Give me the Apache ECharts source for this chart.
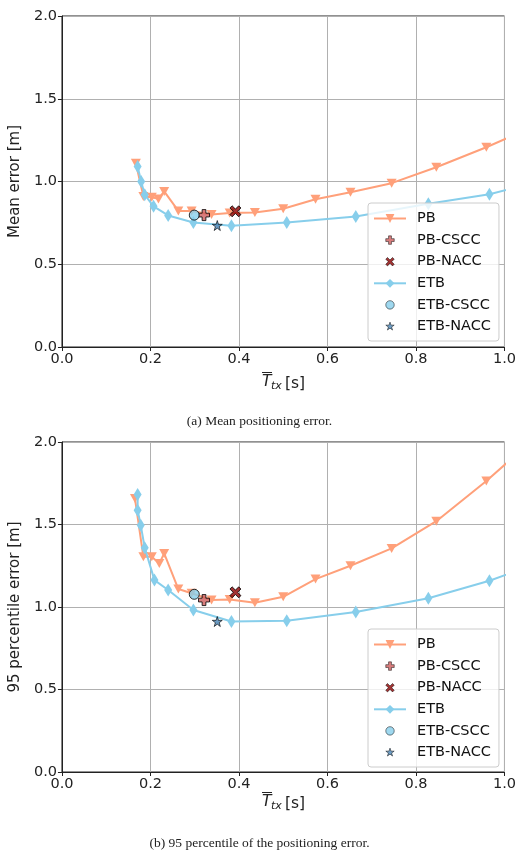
<!DOCTYPE html>
<html>
<head>
<meta charset="utf-8">
<script src="https://cdn.jsdelivr.net/npm/echarts@6/dist/echarts.min.js"></script>
<style>
html,body{margin:0;padding:0;background:#fff;}
#chart{width:519px;height:852px;}
</style>
</head>
<body>
<div id="chart"></div>
<script>
// ---- Data (x = mean Ttx [s], y = error [m]) ----
// (a) Mean positioning error
const meanPB = [[0.167,1.11],[0.184,0.91],[0.203,0.905],[0.218,0.895],[0.231,0.94],[0.263,0.822],[0.293,0.822],[0.338,0.80],[0.379,0.81],[0.436,0.812],[0.50,0.835],[0.573,0.893],[0.652,0.935],[0.745,0.99],[0.846,1.086],[0.959,1.207],[1.08,1.35]];
const meanPBCSCC = [[0.321,0.797]];
const meanPBNACC = [[0.392,0.82]];
const meanETB = [[0.171,1.09],[0.179,1.0],[0.187,0.92],[0.207,0.85],[0.240,0.795],[0.297,0.752],[0.383,0.732],[0.508,0.752],[0.664,0.788],[0.828,0.865],[0.966,0.923],[1.12,1.03]];
const meanETBCSCC = [[0.299,0.797]];
const meanETBNACC = [[0.351,0.734]];
// (b) 95 percentile of the positioning error
const p95PB = [[0.165,1.657],[0.184,1.304],[0.203,1.304],[0.22,1.264],[0.231,1.325],[0.263,1.109],[0.293,1.083],[0.338,1.042],[0.379,1.046],[0.436,1.026],[0.50,1.062],[0.573,1.169],[0.652,1.25],[0.745,1.355],[0.846,1.52],[0.959,1.764],[1.08,2.05]];
const p95PBCSCC = [[0.321,1.042]];
const p95PBNACC = [[0.392,1.089]];
const p95ETB = [[0.171,1.682],[0.171,1.587],[0.178,1.496],[0.187,1.359],[0.209,1.163],[0.240,1.103],[0.297,0.982],[0.383,0.912],[0.508,0.917],[0.664,0.97],[0.828,1.053],[0.966,1.159],[1.12,1.31]];
const p95ETBCSCC = [[0.299,1.077]];
const p95ETBNACC = [[0.351,0.912]];

const seriesNames = ['PB','PB-CSCC','PB-NACC','ETB','ETB-CSCC','ETB-NACC'];
const xTicks = [0.0,0.2,0.4,0.6,0.8,1.0];
const yTicks = [0.0,0.5,1.0,1.5,2.0];
const yLabels = ['Mean error [m]','95 percentile error [m]'];
const captions = ['(a) Mean positioning error.','(b) 95 percentile of the positioning error.'];

// ---- Styles ----
const FONT = 'DejaVu Sans';
const SERIF = 'Liberation Serif';
const cPB = '#FFA07A', cETB = '#87CEEB';
const triDown = 'path://M0,0L10,0L5,8.5Z';
const plusP = 'path://M3.3,0H6.7V3.3H10V6.7H6.7V10H3.3V6.7H0V3.3H3.3Z';
const xP = 'path://M2,0L5,3L8,0L10,2L7,5L10,8L8,10L5,7L2,10L0,8L3,5L0,2Z';
const starP = 'path://M100,0L122.45,69.1L195.1,69.1L136.3,111.8L158.8,180.9L100,138.2L41.2,180.9L63.7,111.8L4.9,69.1L77.55,69.1Z';
// legend icons (padded so they render a bit smaller than the legend box)
const legPlus = 'path://M-1.5,-1.5M11.5,11.5M3.3,0H6.7V3.3H10V6.7H6.7V10H3.3V6.7H0V3.3H3.3Z';
const legX = 'path://M-1.5,-1.5M11.5,11.5M2,0L5,3L8,0L10,2L7,5L10,8L8,10L5,7L2,10L0,8L3,5L0,2Z';
const legCircle = 'path://M-1.5,-1.5M11.5,11.5M0,5A5,5,0,1,1,10,5A5,5,0,1,1,0,5Z';
const legStar = 'path://M-25,-25M225,225M100,0L122.45,69.1L195.1,69.1L136.3,111.8L158.8,180.9L100,138.2L41.2,180.9L63.7,111.8L4.9,69.1L77.55,69.1Z';

const grids = [
  {left:61, top:16, width:445, height:331},
  {left:61, top:442, width:445, height:330}
];

function xAxisFor(i){
  return {type:'value', gridIndex:i, min:0, max:1, interval:0.2,
    axisLine:{show:true, lineStyle:{color:'#222', width:1}},
    axisTick:{show:true, length:4, lineStyle:{color:'#222'}},
    axisLabel:{color:'#222', fontFamily:FONT, fontSize:14.5, margin:5, formatter:v=>v.toFixed(1)},
    splitLine:{show:true, lineStyle:{color:'#b0b0b0', width:1}}
  };
}
function yAxisFor(i){
  return {type:'value', gridIndex:i, min:0, max:2, interval:0.5,
    name:yLabels[i], nameLocation:'middle', nameGap:34,
    nameTextStyle:{color:'#222', fontFamily:FONT, fontSize:15},
    axisLine:{show:true, lineStyle:{color:'#222', width:1}},
    axisTick:{show:true, length:4, lineStyle:{color:'#222'}},
    axisLabel:{color:'#222', fontFamily:FONT, fontSize:14.5, margin:5, formatter:v=>v.toFixed(1)},
    splitLine:{show:true, lineStyle:{color:'#b0b0b0', width:1}}
  };
}

function seriesFor(i, pb, pbC, pbN, etb, etbC, etbN){
  return [
    {name:'PB', type:'line', xAxisIndex:i, yAxisIndex:i, data:pb, symbol:triDown, symbolSize:[10,9], symbolKeepAspect:false,
     showAllSymbol:true, lineStyle:{color:cPB, width:2}, itemStyle:{color:cPB}, z:2, animation:false},
    {name:'PB-CSCC', type:'scatter', xAxisIndex:i, yAxisIndex:i, data:pbC, symbol:plusP, symbolSize:11,
     itemStyle:{color:'#CD5C5C', borderColor:'#000', borderWidth:1}, z:3, animation:false},
    {name:'PB-NACC', type:'scatter', xAxisIndex:i, yAxisIndex:i, data:pbN, symbol:xP, symbolSize:11,
     itemStyle:{color:'#8B0000', borderColor:'#000', borderWidth:1}, z:3, animation:false},
    {name:'ETB', type:'line', xAxisIndex:i, yAxisIndex:i, data:etb, symbol:'diamond', symbolSize:[8,13],
     showAllSymbol:true, lineStyle:{color:cETB, width:2}, itemStyle:{color:cETB}, z:4, animation:false},
    {name:'ETB-CSCC', type:'scatter', xAxisIndex:i, yAxisIndex:i, data:etbC, symbol:'circle', symbolSize:10,
     itemStyle:{color:cETB, borderColor:'#000', borderWidth:1}, z:5, animation:false},
    {name:'ETB-NACC', type:'scatter', xAxisIndex:i, yAxisIndex:i, data:etbN, symbol:starP, symbolSize:10,
     itemStyle:{color:'#4682B4', borderColor:'#000', borderWidth:0.8}, z:5, animation:false}
  ];
}

function legendFor(top){
  return {orient:'vertical', left:368, top:top,
    data:[
      {name:'PB'},
      {name:'PB-CSCC', icon:legPlus, itemStyle:{borderWidth:0.6}},
      {name:'PB-NACC', icon:legX, itemStyle:{borderWidth:0.6}},
      {name:'ETB'},
      {name:'ETB-CSCC', icon:legCircle, itemStyle:{borderWidth:0.6}},
      {name:'ETB-NACC', icon:legStar, itemStyle:{borderWidth:0.6}}
    ],
    itemWidth:32, itemHeight:11, itemGap:6.6,
    padding:[8,8,7,5], backgroundColor:'rgba(255,255,255,0.8)',
    borderColor:'#cccccc', borderWidth:1, borderRadius:3,
    textStyle:{color:'#111', fontFamily:FONT, fontSize:14.5, padding:[0,0,0,6]},
    selectedMode:false, z:10
  };
}

function xName(yTop){
  // overlined italic T with subscript "tx", then " [s]"
  return [
    {type:'text', x:262, y:yTop+9, style:{text:'T', fontFamily:FONT, fontStyle:'italic', fontSize:15.5, fill:'#222', verticalAlign:'middle'}},
    {type:'line', shape:{x1:262, y1:yTop, x2:272, y2:yTop}, style:{stroke:'#222', lineWidth:1}},
    {type:'text', x:271, y:yTop+14, style:{text:'tx', fontFamily:FONT, fontStyle:'italic', fontSize:11, fill:'#222', verticalAlign:'middle'}},
    {type:'text', x:285, y:yTop+11, style:{text:'[s]', fontFamily:FONT, fontSize:15.5, fill:'#222', verticalAlign:'middle'}}
  ];
}

const chart = echarts.init(document.getElementById('chart'), null, {renderer:'canvas'});
chart.setOption({
  backgroundColor:'#fff',
  animation:false,
  grid: grids.map(g=>Object.assign({show:true, borderColor:'#222', borderWidth:1, backgroundColor:'transparent', containLabel:false}, g)),
  xAxis:[xAxisFor(0), xAxisFor(1)],
  yAxis:[yAxisFor(0), yAxisFor(1)],
  legend:[legendFor(203), legendFor(629)],
  series:[].concat(
    seriesFor(0, meanPB, meanPBCSCC, meanPBNACC, meanETB, meanETBCSCC, meanETBNACC),
    seriesFor(1, p95PB, p95PBCSCC, p95PBNACC, p95ETB, p95ETBCSCC, p95ETBNACC)
  ),
  graphic:[].concat(
    xName(372.5),
    xName(792.5),
    [
      {type:'text', left:'center', top:414, style:{text:captions[0], fontFamily:SERIF, fontSize:13.5, fill:'#222'}},
      {type:'text', left:'center', top:836, style:{text:captions[1], fontFamily:SERIF, fontSize:13.5, fill:'#222'}}
    ]
  )
});
</script>
</body>
</html>
